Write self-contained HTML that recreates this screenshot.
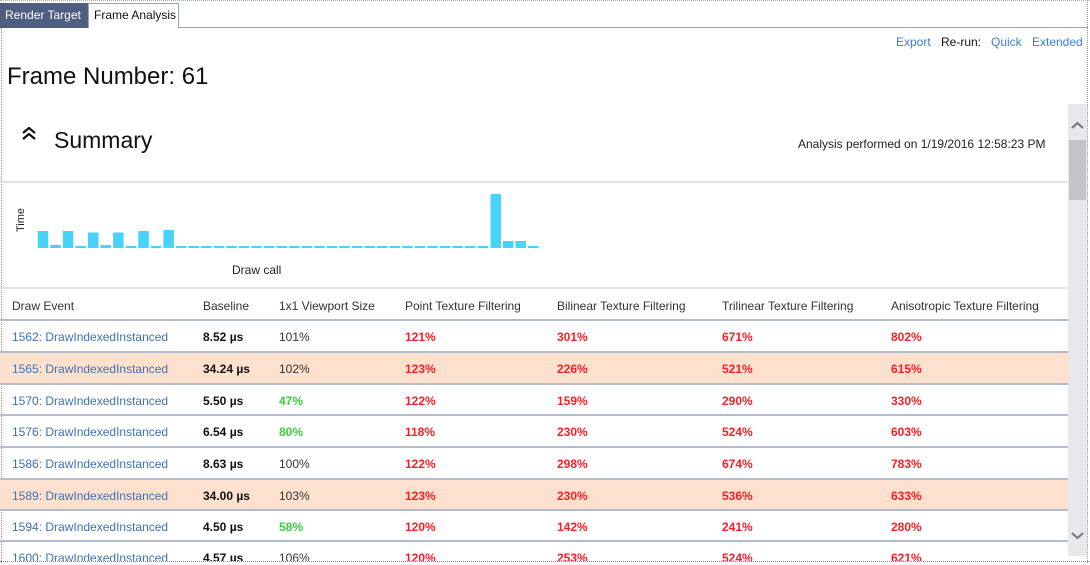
<!DOCTYPE html>
<html><head><meta charset="utf-8">
<style>
*{margin:0;padding:0;box-sizing:border-box}
body{width:1090px;height:565px;background:#fff;position:relative;overflow:hidden;font-family:"Liberation Sans",sans-serif;color:#222}
.a{position:absolute;white-space:nowrap}
.tab1{left:0;top:3px;width:88px;height:25px;background:#4f5e80;color:#fff;font-size:12px;line-height:24px;padding-left:5px}
.tab2{left:88px;top:3px;width:91px;height:25px;background:#fff;border:1px solid #9aa6bd;border-bottom:none;font-size:12px;line-height:22px;padding-left:5px;color:#111}
.lnk{color:#3a7fd5;font-size:12px}
.row{position:absolute;left:0;width:1068px;height:32px;font-size:12px;line-height:32px}
.row span{position:absolute;top:0}
.ev{left:12px;color:#3d72b4}
.bl{left:203px;font-weight:bold;color:#111}
.vp{left:279px;color:#333}
.g{color:#3fcb3f;font-weight:bold}
.r{color:#fa1e2a;font-weight:bold}
.c3{left:405px}.c4{left:557px}.c5{left:722px}.c6{left:891px}
.hl{background:#fde0cd}
.line{position:absolute;left:0;width:1068px;height:2px;background:#b2bccd}
</style></head><body>
<div class="a" style="left:0;top:0;width:1090px;height:1px;border-top:1px dotted #aaa"></div>
<div class="a" style="left:1px;top:27px;width:1px;height:536px;border-left:1px dotted #999"></div>
<div class="a" style="left:1087px;top:0;width:1px;height:563px;border-left:1px dotted #999"></div>
<div class="a" style="left:0;top:561px;width:1090px;height:1px;border-top:1px dotted #888"></div>
<div class="a" style="left:178px;top:27px;width:910px;height:1px;background:#9aa6bd"></div>
<div class="a tab1">Render Target</div>
<div class="a tab2">Frame Analysis</div>

<div class="a lnk" style="left:896px;top:35px">Export</div>
<div class="a" style="left:941px;top:35px;font-size:12px;color:#111">Re-run:</div>
<div class="a lnk" style="left:991px;top:35px">Quick</div>
<div class="a lnk" style="left:1032px;top:35px">Extended</div>

<div class="a" style="left:7px;top:63px;font-size:24px;color:#111">Frame Number: 61</div>

<svg class="a" style="left:21px;top:127px" width="16" height="13" viewBox="0 0 16 13">
<polyline points="2,6 8,1 14,6" fill="none" stroke="#111" stroke-width="2.2"/>
<polyline points="2,12 8,7 14,12" fill="none" stroke="#111" stroke-width="2.2"/>
</svg>
<div class="a" style="left:54px;top:127px;font-size:23px;color:#111">Summary</div>
<div class="a" style="left:798px;top:137px;font-size:12px;color:#222">Analysis performed on 1/19/2016 12:58:23 PM</div>

<div class="a" style="left:0;top:181px;width:1068px;height:2px;background:#e3e3ea"></div>

<div class="a" style="left:7px;top:214px;font-size:11px;color:#222;transform:rotate(-90deg);transform-origin:center;width:28px;text-align:center">Time</div>
<div class="a" style="left:232px;top:263px;font-size:12px;color:#222">Draw call</div>

<svg class="a" style="left:0;top:0" width="600" height="260">
<g fill="#48d3fd">
<rect x="37.7" y="231" width="10.5" height="17"/>
<rect x="50.3" y="245" width="10.5" height="3"/>
<rect x="62.8" y="231" width="10.5" height="17"/>
<rect x="75.4" y="246" width="10.5" height="2"/>
<rect x="88" y="232.5" width="10.5" height="15.5"/>
<rect x="100.5" y="245" width="10.5" height="3"/>
<rect x="113.1" y="232.5" width="10.5" height="15.5"/>
<rect x="125.7" y="246" width="10.5" height="2"/>
<rect x="138.3" y="231" width="10.5" height="17"/>
<rect x="150.8" y="246" width="10.5" height="2"/>
<rect x="163.4" y="230" width="10.5" height="18"/>
<rect x="176" y="246" width="10.5" height="2"/><rect x="188.5" y="246" width="10.5" height="2"/><rect x="201.1" y="246" width="10.5" height="2"/><rect x="213.7" y="246" width="10.5" height="2"/><rect x="226.2" y="246" width="10.5" height="2"/><rect x="238.8" y="246" width="10.5" height="2"/><rect x="251.4" y="246" width="10.5" height="2"/><rect x="263.9" y="246" width="10.5" height="2"/><rect x="276.5" y="246" width="10.5" height="2"/><rect x="289.1" y="246" width="10.5" height="2"/><rect x="301.6" y="246" width="10.5" height="2"/><rect x="314.2" y="246" width="10.5" height="2"/><rect x="326.8" y="246" width="10.5" height="2"/><rect x="339.3" y="246" width="10.5" height="2"/><rect x="351.9" y="246" width="10.5" height="2"/><rect x="364.5" y="246" width="10.5" height="2"/><rect x="377" y="246" width="10.5" height="2"/><rect x="389.6" y="246" width="10.5" height="2"/><rect x="402.2" y="246" width="10.5" height="2"/><rect x="414.7" y="246" width="10.5" height="2"/><rect x="427.3" y="246" width="10.5" height="2"/><rect x="439.9" y="246" width="10.5" height="2"/><rect x="452.4" y="246" width="10.5" height="2"/><rect x="465" y="246" width="10.5" height="2"/><rect x="477.6" y="246" width="10.5" height="2"/>
<rect x="490.5" y="194" width="10.5" height="54"/>
<rect x="503" y="241" width="10.5" height="7"/>
<rect x="515.5" y="241" width="10.5" height="7"/>
<rect x="528" y="246" width="10.5" height="2"/>
</g></svg>

<div class="a" style="left:0;top:287px;width:1068px;height:2px;background:#e3e3ea"></div>
<div class="row" style="top:290px;line-height:32px;color:#333">
<span style="left:12px">Draw Event</span><span style="left:203px">Baseline</span><span style="left:279px">1x1 Viewport Size</span><span class="c3">Point Texture Filtering</span><span class="c4">Bilinear Texture Filtering</span><span class="c5">Trilinear Texture Filtering</span><span class="c6">Anisotropic Texture Filtering</span>
</div>
<div class="line" style="top:319px"></div>

<div class="row" style="top:321px"><span class="ev">1562: DrawIndexedInstanced</span><span class="bl">8.52 µs</span><span class="vp">101%</span><span class="c3 r">121%</span><span class="c4 r">301%</span><span class="c5 r">671%</span><span class="c6 r">802%</span></div>
<div class="line" style="top:351px"></div>
<div class="row hl" style="top:353px;height:30px"><span class="ev">1565: DrawIndexedInstanced</span><span class="bl">34.24 µs</span><span class="vp">102%</span><span class="c3 r">123%</span><span class="c4 r">226%</span><span class="c5 r">521%</span><span class="c6 r">615%</span></div>
<div class="line" style="top:383px"></div>
<div class="row" style="top:385px"><span class="ev">1570: DrawIndexedInstanced</span><span class="bl">5.50 µs</span><span class="vp g">47%</span><span class="c3 r">122%</span><span class="c4 r">159%</span><span class="c5 r">290%</span><span class="c6 r">330%</span></div>
<div class="line" style="top:414px"></div>
<div class="row" style="top:416px"><span class="ev">1576: DrawIndexedInstanced</span><span class="bl">6.54 µs</span><span class="vp g">80%</span><span class="c3 r">118%</span><span class="c4 r">230%</span><span class="c5 r">524%</span><span class="c6 r">603%</span></div>
<div class="line" style="top:446px"></div>
<div class="row" style="top:448px"><span class="ev">1586: DrawIndexedInstanced</span><span class="bl">8.63 µs</span><span class="vp">100%</span><span class="c3 r">122%</span><span class="c4 r">298%</span><span class="c5 r">674%</span><span class="c6 r">783%</span></div>
<div class="line" style="top:478px"></div>
<div class="row hl" style="top:480px;height:30px"><span class="ev">1589: DrawIndexedInstanced</span><span class="bl">34.00 µs</span><span class="vp">103%</span><span class="c3 r">123%</span><span class="c4 r">230%</span><span class="c5 r">536%</span><span class="c6 r">633%</span></div>
<div class="line" style="top:509px"></div>
<div class="row" style="top:511px"><span class="ev">1594: DrawIndexedInstanced</span><span class="bl">4.50 µs</span><span class="vp g">58%</span><span class="c3 r">120%</span><span class="c4 r">142%</span><span class="c5 r">241%</span><span class="c6 r">280%</span></div>
<div class="line" style="top:540px"></div>
<div class="a" style="left:2px;top:542px;width:1066px;height:19px;overflow:hidden">
<div class="row" style="top:0;left:-2px"><span class="ev">1600: DrawIndexedInstanced</span><span class="bl">4.57 µs</span><span class="vp">106%</span><span class="c3 r">120%</span><span class="c4 r">253%</span><span class="c5 r">524%</span><span class="c6 r">621%</span></div>
</div>

<div class="a" style="left:1068px;top:104px;width:19px;height:452px;background:#e8e8ec"></div>
<div class="a" style="left:1069px;top:140px;width:17px;height:60px;background:#c4c4c8"></div>
<svg class="a" style="left:1070px;top:120px" width="15" height="10"><polyline points="2,8 7.5,3 13,8" fill="none" stroke="#777" stroke-width="2"/></svg>
<svg class="a" style="left:1070px;top:531px" width="15" height="10"><polyline points="2,2 7.5,7 13,2" fill="none" stroke="#777" stroke-width="2"/></svg>
</body></html>
